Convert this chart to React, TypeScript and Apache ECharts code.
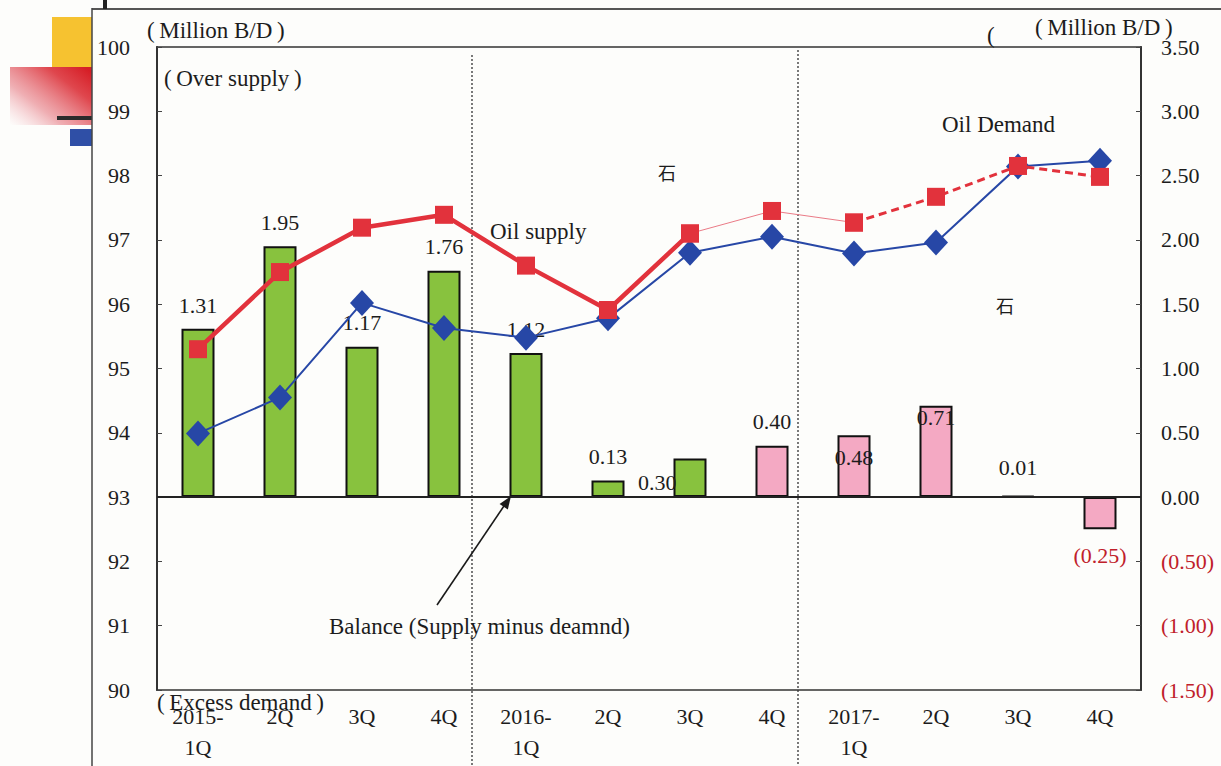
import { useEffect, useRef } from "react";
import * as echarts from "echarts";

// Quarterly world oil supply / demand (million barrels per day) and the resulting balance
const quarters = [
  "2015-\n1Q", "2Q", "3Q", "4Q",
  "2016-\n1Q", "2Q", "3Q", "4Q",
  "2017-\n1Q", "2Q", "3Q", "4Q",
];
const balance = [1.31, 1.95, 1.17, 1.76, 1.12, 0.13, 0.3, 0.4, 0.48, 0.71, 0.01, -0.25];
const oilDemand = [93.99, 94.55, 96.02, 95.63, 95.48, 95.78, 96.8, 97.05, 96.79, 96.96, 98.14, 98.23];
const oilSupply = [95.3, 96.5, 97.19, 97.39, 96.6, 95.91, 97.1, 97.45, 97.27, 97.67, 98.15, 97.98];
const actualQuarterCount = 7; // quarters drawn green; the rest are projections

const SERIF = "'Liberation Serif', 'Times New Roman', 'Noto Sans CJK SC', serif";
const RED = "#e2323c";
const BLUE = "#2747a6";
const NEG_RED = "#c0202a";
const TXT = "#1c1c1c";

const fmtBalance = (v: number) => (v < 0 ? `(${Math.abs(v).toFixed(2)})` : v.toFixed(2));

// where each balance label sits relative to its bar
const labelPlacement: any[] = [
  { position: "top", offset: [0, -7] },
  { position: "top", offset: [0, -8] },
  { position: "top", offset: [0, -8] },
  { position: "top", offset: [0, -8] },
  { position: "top", offset: [0, -8] },
  { position: "top", offset: [0, -8] },
  { position: "left", distance: 0, offset: [3, 5] },
  { position: "top", offset: [0, -8] },
  { position: "insideTop", distance: 11 },
  { position: "insideTop", distance: 1 },
  { position: "top", offset: [0, -12] },
  { position: "bottom", offset: [0, 10], color: NEG_RED },
];

const segment = (from: number, to: number) =>
  oilSupply.map((v, i) => (i >= from && i <= to ? v : null));

function arrowHead(tip: [number, number], tail: [number, number], len: number, half: number) {
  const dx = tip[0] - tail[0];
  const dy = tip[1] - tail[1];
  const l = Math.hypot(dx, dy);
  const ux = dx / l;
  const uy = dy / l;
  const bx = tip[0] - ux * len;
  const by = tip[1] - uy * len;
  return [
    tip,
    [bx - uy * half, by + ux * half],
    [bx + uy * half, by - ux * half],
  ];
}

export default function App() {
  const ref = useRef<HTMLDivElement>(null);

  useEffect(() => {
    if (!ref.current) return;
    const chart = echarts.init(ref.current, undefined, { renderer: "svg" });

    const text = (t: string, x: number, y: number, extra: any = {}) => ({
      type: "text",
      x,
      y,
      z: 100,
      style: {
        text: t,
        fontFamily: SERIF,
        fontSize: 23,
        fill: TXT,
        textAlign: "left",
        textVerticalAlign: "middle",
        ...extra,
      },
    });

    const arrowTail: [number, number] = [437, 605];
    const arrowTip: [number, number] = [511, 496];

    chart.setOption({
      animation: false,
      backgroundColor: "#fdfdfb",
      textStyle: { fontFamily: SERIF },
      grid: {
        left: 157,
        right: 80,
        top: 47,
        bottom: 76,
        show: true,
        borderColor: "#333",
        borderWidth: 1.5,
        backgroundColor: "transparent",
      },
      xAxis: {
        type: "category",
        data: quarters,
        boundaryGap: true,
        axisLine: { lineStyle: { color: "#333", width: 2 } },
        axisTick: { inside: true, length: 5, lineStyle: { color: "#444" } },
        axisLabel: {
          color: TXT,
          fontSize: 22,
          fontFamily: SERIF,
          lineHeight: 31,
          margin: 11,
          interval: 0,
        },
        splitLine: { show: false },
      },
      yAxis: [
        {
          type: "value",
          min: 90,
          max: 100,
          interval: 1,
          axisLine: { show: true, lineStyle: { color: "#333", width: 2 } },
          axisTick: { show: true, inside: true, length: 5, lineStyle: { color: "#444" } },
          axisLabel: { color: TXT, fontSize: 22, fontFamily: SERIF, margin: 27 },
          splitLine: { show: false },
        },
        {
          type: "value",
          min: -1.5,
          max: 3.5,
          interval: 0.5,
          position: "right",
          axisLine: { show: true, lineStyle: { color: "#333", width: 2 } },
          axisTick: { show: true, inside: true, length: 5, lineStyle: { color: "#444" } },
          axisLabel: {
            fontSize: 22,
            fontFamily: SERIF,
            margin: 20,
            formatter: (v: number) => fmtBalance(v),
            color: (v: any) => (Number(v) < 0 ? NEG_RED : TXT),
          },
          splitLine: { show: false },
        },
      ],
      series: [
        {
          name: "Balance",
          type: "bar",
          yAxisIndex: 1,
          barWidth: 33,
          z: 2,
          data: balance.map((v, i) => ({
            value: v,
            itemStyle: { color: i < actualQuarterCount ? "#88c23e" : "#f4a9c3" },
            label: { ...labelPlacement[i] },
          })),
          itemStyle: { borderColor: "#111", borderWidth: 2 },
          label: {
            show: true,
            fontSize: 22,
            fontFamily: SERIF,
            color: TXT,
            formatter: (p: any) => fmtBalance(p.value),
          },
          markLine: {
            silent: true,
            symbol: "none",
            label: { show: false },
            lineStyle: { color: "#222", width: 2, type: "solid" },
            data: [{ yAxis: 0 }],
          },
        },
        {
          name: "Oil Demand",
          type: "line",
          yAxisIndex: 0,
          z: 4,
          data: oilDemand,
          symbol: "diamond",
          symbolSize: [24, 26],
          lineStyle: { color: BLUE, width: 2 },
          itemStyle: { color: BLUE },
        },
        {
          name: "Oil supply",
          type: "line",
          yAxisIndex: 0,
          z: 5,
          data: segment(0, actualQuarterCount - 1),
          symbol: "rect",
          symbolSize: 18,
          lineStyle: { color: RED, width: 4.5 },
          itemStyle: { color: RED },
        },
        {
          name: "Oil supply (transition)",
          type: "line",
          yAxisIndex: 0,
          z: 5,
          data: segment(actualQuarterCount - 1, actualQuarterCount + 1),
          symbol: "rect",
          symbolSize: 18,
          lineStyle: { color: "#ea7a86", width: 1 },
          itemStyle: { color: RED },
        },
        {
          name: "Oil supply (projection)",
          type: "line",
          yAxisIndex: 0,
          z: 5,
          data: segment(actualQuarterCount + 1, oilSupply.length - 1),
          symbol: "rect",
          symbolSize: 18,
          lineStyle: { color: RED, width: 3, type: [8, 5] },
          itemStyle: { color: RED },
        },
      ],
      graphic: [
        // slide decoration on the left margin
        { type: "rect", shape: { x: 52, y: 17, width: 40, height: 50 }, style: { fill: "#f6c230" }, z: 1 },
        {
          type: "rect",
          shape: { x: 10, y: 67, width: 82, height: 58 },
          style: {
            fill: new echarts.graphic.LinearGradient(0, 1, 1, 0.1, [
              { offset: 0, color: "rgba(240,170,180,0)" },
              { offset: 0.35, color: "rgba(228,110,120,0.55)" },
              { offset: 0.75, color: "rgba(220,50,58,0.9)" },
              { offset: 1, color: "rgba(214,30,38,1)" },
            ]),
          },
          z: 1,
        },
        { type: "rect", shape: { x: 57, y: 116, width: 35, height: 4 }, style: { fill: "#2b2b2b" }, z: 1 },
        { type: "rect", shape: { x: 70, y: 129, width: 22, height: 17 }, style: { fill: "#2f4fa6" }, z: 1 },
        // white panel frame
        { type: "line", shape: { x1: 92, y1: 9, x2: 1221, y2: 9 }, style: { stroke: "#555", lineWidth: 2 }, z: 2 },
        { type: "line", shape: { x1: 92, y1: 8, x2: 92, y2: 766 }, style: { stroke: "#444", lineWidth: 1.5 }, z: 2 },
        { type: "rect", shape: { x: 103, y: 0, width: 4, height: 9 }, style: { fill: "#222" }, z: 2 },
        // year separators
        { type: "line", shape: { x1: 472, y1: 55, x2: 472, y2: 766 }, style: { stroke: "#333", lineWidth: 1.3, lineDash: [2, 2] }, z: 3 },
        { type: "line", shape: { x1: 798, y1: 50, x2: 798, y2: 766 }, style: { stroke: "#333", lineWidth: 1.3, lineDash: [2, 2] }, z: 3 },
        // unit and annotation texts
        text("(\u2009Million B/D\u2009)", 147, 30),
        text("(\u2009Million B/D\u2009)", 1035, 27),
        text("(", 987, 35),
        text("(\u2009Over supply\u2009)", 164, 78),
        text("(\u2009Excess demand\u2009)", 157, 702),
        text("Oil supply", 490, 231),
        text("Oil Demand", 942, 124),
        text("石", 667, 172, { textAlign: "center", fontFamily: "'Noto Sans CJK SC', sans-serif", fontSize: 18 }),
        text("石", 1005, 305, { textAlign: "center", fontFamily: "'Noto Sans CJK SC', sans-serif", fontSize: 18 }),
        text("Balance (Supply minus deamnd)", 329, 626),
        {
          type: "line",
          z: 100,
          shape: { x1: arrowTail[0], y1: arrowTail[1], x2: arrowTip[0] - 5, y2: arrowTip[1] + 7 },
          style: { stroke: "#1a1a1a", lineWidth: 1.6 },
        },
        {
          type: "polygon",
          z: 100,
          shape: { points: arrowHead(arrowTip, arrowTail, 13, 5) },
          style: { fill: "#1a1a1a" },
        },
      ],
    });

    return () => chart.dispose();
  }, []);

  return (
    <div
      ref={ref}
      style={{ position: "fixed", left: 0, top: 0, width: 1221, height: 766, background: "#fdfdfb" }}
    />
  );
}
